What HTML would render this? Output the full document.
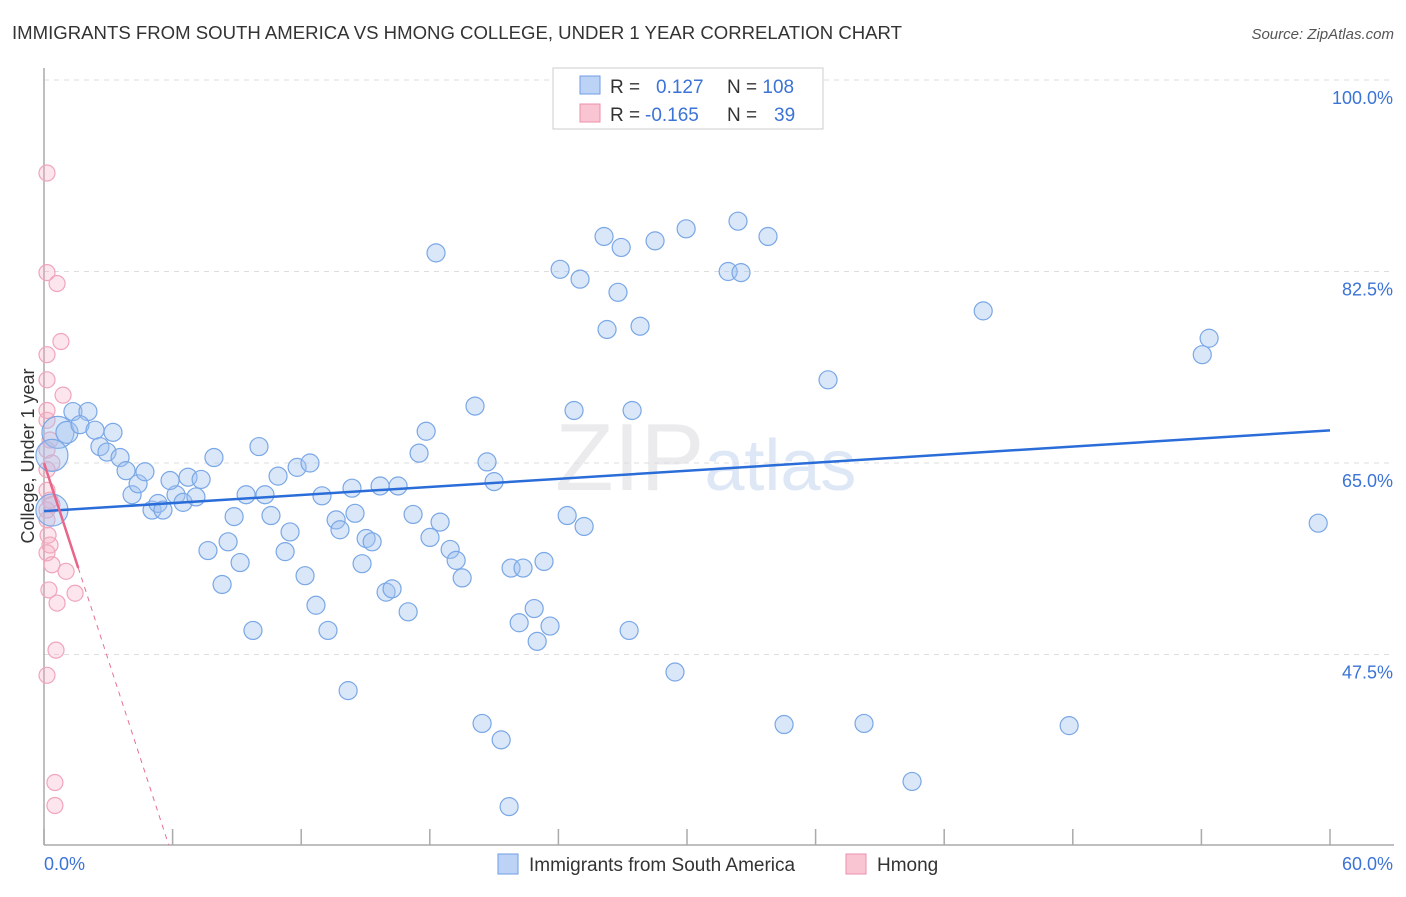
<!DOCTYPE html>
<html><head><meta charset="utf-8"><style>
body{margin:0;background:#fff;font-family:"Liberation Sans",sans-serif}
svg text{font-family:"Liberation Sans",sans-serif}
</style></head><body>
<svg id="chart" width="1406" height="892">
<text x="12" y="39" font-size="18" fill="#333" textLength="890" lengthAdjust="spacingAndGlyphs">IMMIGRANTS FROM SOUTH AMERICA VS HMONG COLLEGE, UNDER 1 YEAR CORRELATION CHART</text>
<text x="1394" y="39" font-size="15" fill="#555" font-style="italic" text-anchor="end">Source: ZipAtlas.com</text>
<text x="555" y="490" font-size="96" fill="#ebebee" font-family="Liberation Serif">ZIP<tspan fill="#dde7f5" font-family="Liberation Sans" font-size="72">atlas</tspan></text>
<g id="grid"></g><g id="axes"></g><g id="marks"></g>
<text transform="translate(34,456) rotate(-90)" font-size="18" fill="#333" text-anchor="middle">College, Under 1 year</text>
<g>
<rect x="553" y="68" width="270" height="61" fill="#fff" stroke="#ccc"/>
<rect x="580" y="76" width="20" height="18" fill="#bcd3f5" stroke="#6f9ee6"/>
<rect x="580" y="104" width="20" height="18" fill="#f9c5d3" stroke="#ec8fab"/>
<text x="610" y="93" font-size="19" fill="#333">R = <tspan fill="#3b73d6" x="656">0.127</tspan><tspan x="727" fill="#333">N = </tspan><tspan fill="#3b73d6">108</tspan></text>
<text x="610" y="121" font-size="19" fill="#333">R = <tspan fill="#3b73d6" x="645">-0.165</tspan><tspan x="727" fill="#333">N = </tspan><tspan fill="#3b73d6" x="774">39</tspan></text>
</g>
<g>
<rect x="498" y="854" width="20" height="20" fill="#bcd3f5" stroke="#6f9ee6"/>
<text x="529" y="871" font-size="19" fill="#333">Immigrants from South America</text>
<rect x="846" y="854" width="20" height="20" fill="#f9c5d3" stroke="#ec8fab"/>
<text x="877" y="871" font-size="19" fill="#333">Hmong</text>
</g>
</svg>
<script>
const yTicks=[100,82.5,65,47.5];
const yTickLabels=["100.0%","82.5%","65.0%","47.5%"];
const xTicks=[0,6,12,18,24,30,36,42,48,54,60];
const blueX=[0.65,0.37,0.37,1.07,1.35,2.05,1.68,2.38,2.61,2.94,3.22,3.55,3.83,4.11,4.39,4.71,5.04,5.32,5.55,6.16,5.88,6.49,6.72,7.09,7.33,7.93,7.65,8.31,8.59,8.87,9.15,9.43,9.75,10.03,10.31,10.59,10.92,11.25,11.48,11.81,12.18,12.41,12.69,12.97,13.25,13.63,13.81,14.19,14.37,14.51,14.84,15.03,15.31,15.68,15.96,16.24,16.52,16.99,17.22,17.5,17.83,18.01,18.29,18.48,18.95,19.23,19.51,20.11,20.44,20.67,21.0,21.33,21.7,21.79,22.17,22.35,22.87,23.01,23.33,23.61,24.08,24.41,24.73,25.01,25.2,26.13,26.27,26.78,26.93,27.3,27.44,27.81,28.51,29.44,29.96,31.92,32.38,32.52,33.78,34.53,36.58,38.26,40.5,43.82,47.83,54.04,54.36,59.45,35.37];
const blueY=[67.8,65.7,60.7,67.8,69.7,69.7,68.5,68.0,66.5,66.0,67.8,65.5,64.3,62.1,63.1,64.2,60.7,61.3,60.7,62.1,63.4,61.4,63.7,61.9,63.5,65.5,57.0,53.9,57.8,60.1,55.9,62.1,49.7,66.5,62.1,60.2,63.8,56.9,58.7,64.6,54.7,65.0,52.0,62.0,49.7,59.8,58.9,44.2,62.7,60.4,55.8,58.1,57.8,62.9,53.2,53.5,62.9,51.4,60.3,65.9,67.9,58.2,84.2,59.6,57.1,56.1,54.5,70.2,41.2,65.1,63.3,39.7,33.6,55.4,50.4,55.4,51.7,48.7,56.0,50.1,82.7,60.2,69.8,81.8,59.2,85.7,77.2,80.6,84.7,49.7,69.8,77.5,85.3,45.9,86.4,82.5,87.1,82.4,85.7,41.1,72.6,41.2,35.9,78.9,41.0,74.9,76.4,59.5,100];
const blueSize=[16,16,16,11,9,9,9,9,9,9,9,9,9,9,9,9,9,9,9,9,9,9,9,9,9,9,9,9,9,9,9,9,9,9,9,9,9,9,9,9,9,9,9,9,9,9,9,9,9,9,9,9,9,9,9,9,9,9,9,9,9,9,9,9,9,9,9,9,9,9,9,9,9,9,9,9,9,9,9,9,9,9,9,9,9,9,9,9,9,9,9,9,9,9,9,9,9,9,9,9,9,9,9,9,9,9,9,9,9];
const pinkX=[0.14,0.14,0.61,0.79,0.14,0.14,0.89,0.14,0.14,0.28,0.14,0.37,0.14,0.28,0.14,0.37,0.19,0.28,0.14,0.37,1.03,0.23,1.45,0.61,0.56,0.14,0.51,0.51,0.14,0.14];
const pinkY=[91.5,82.4,81.4,76.1,74.9,72.6,71.2,69.8,68.9,67.1,66.2,65.0,62.5,61.6,60.7,61.2,58.4,57.5,56.8,55.7,55.1,53.4,53.1,52.2,47.9,45.6,35.8,33.7,64.4,59.8];
const blueTrend=[60.6,0.123];
const pinkTrend=[65.0,-6.0];
const NS="http://www.w3.org/2000/svg";
const X0=44,X1=1330,Y0=80,Y1=845;
function sx(v){return X0+v/60*(X1-X0);}
function sy(v){return Y0+(100-v)/17.5*191.5;}
function mk(tag,attrs,parent){const e=document.createElementNS(NS,tag);for(const k in attrs)e.setAttribute(k,attrs[k]);document.getElementById(parent).appendChild(e);return e;}
yTicks.forEach((t,i)=>{
  let l=mk('line',{x1:X0,x2:1394,y1:sy(t),y2:sy(t),stroke:'#ddd','stroke-dasharray':'5,5'},'grid');
  
  
  let tx=mk('text',{x:1393,y:sy(t)+24,'font-size':18,fill:'#3b73d6','text-anchor':'end'},'axes');
  tx.textContent=yTickLabels[i];
  
  
});
let ya=mk('line',{x1:X0,x2:X0,y1:68,y2:Y1,stroke:'#aaa','stroke-width':1.5},'axes');


let xa=mk('line',{x1:X0,x2:1394,y1:Y1,y2:Y1,stroke:'#aaa','stroke-width':1.5},'axes');


xTicks.forEach(t=>{
  let k=mk('line',{x1:sx(t),x2:sx(t),y1:Y1,y2:Y1-16,stroke:'#aaa','stroke-width':1.5},'axes');
  
  
});
let xl=mk('text',{x:44,y:870,'font-size':18,fill:'#3b73d6'},'axes');xl.textContent='0.0%';


let xr=mk('text',{x:1393,y:870,'font-size':18,fill:'#3b73d6','text-anchor':'end'},'axes');xr.textContent='60.0%';


pinkX.forEach((x,i)=>{
  let c=mk('circle',{cx:sx(x),cy:sy(pinkY[i]),r:8,fill:'rgba(246,170,192,0.3)',stroke:'#f0a5bb','stroke-width':1.2},'marks');
  
  
});
blueX.forEach((x,i)=>{
  let c=mk('circle',{cx:sx(x),cy:sy(blueY[i]),r:blueSize[i],fill:'rgba(160,196,240,0.4)',stroke:'#7aa7e6','stroke-width':1.2},'marks');
  
  
});
let bl=mk('line',{x1:sx(0),y1:sy(blueTrend[0]),x2:sx(60),y2:sy(blueTrend[0]+blueTrend[1]*60),stroke:'#2a6dd9','stroke-width':2.5},'marks');


const pEnd=(30.1-pinkTrend[0])/pinkTrend[1];
let pd=mk('line',{x1:sx(1.6),y1:sy(pinkTrend[0]+pinkTrend[1]*1.6),x2:sx(pEnd),y2:sy(30.1),stroke:'#e8708f','stroke-width':1,'stroke-dasharray':'5,5'},'marks');


let ps=mk('line',{x1:sx(0),y1:sy(pinkTrend[0]),x2:sx(1.6),y2:sy(pinkTrend[0]+pinkTrend[1]*1.6),stroke:'#e8668a','stroke-width':2.5},'marks');


</script>
</body></html>
